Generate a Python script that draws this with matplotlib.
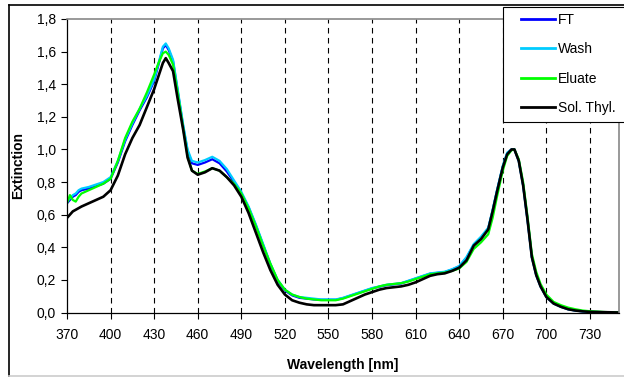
import numpy as np
import matplotlib
matplotlib.use('Agg')
import matplotlib.pyplot as plt
from matplotlib.patches import Rectangle
from matplotlib.lines import Line2D

plt.rcParams['font.family'] = ['Liberation Sans', 'DejaVu Sans']

# wavelength [nm]
wl = [370, 372, 374, 376, 378, 380, 385, 390, 395, 400, 405, 410, 415, 420, 425, 430, 433, 436, 438, 440,
      443, 446, 450, 453, 456, 460, 465, 470, 475, 480, 485, 490, 495, 500, 505, 510, 515, 520, 525, 530,
      535, 540, 545, 550, 555, 560, 565, 570, 575, 580, 585, 590, 595, 600, 605, 610, 615, 620, 625, 630,
      635, 640, 645, 650, 655, 660, 663, 666, 670, 673, 676, 678, 681, 684, 687, 690, 693, 696, 700, 705,
      710, 715, 720, 725, 730, 740, 750]

wash = [0.68, 0.70, 0.72, 0.73, 0.75, 0.76, 0.77, 0.785, 0.80, 0.83, 0.93, 1.06, 1.16, 1.25, 1.33, 1.43, 1.53, 1.63, 1.65, 1.62,
        1.55, 1.38, 1.15, 1.00, 0.93, 0.92, 0.935, 0.955, 0.93, 0.88, 0.81, 0.74, 0.65, 0.54, 0.42, 0.30, 0.20, 0.14, 0.11, 0.095,
        0.09, 0.085, 0.08, 0.08, 0.08, 0.09, 0.105, 0.12, 0.135, 0.15, 0.16, 0.17, 0.175, 0.18, 0.195, 0.21, 0.225, 0.24, 0.245, 0.25,
        0.265, 0.285, 0.34, 0.42, 0.465, 0.52, 0.63, 0.75, 0.90, 0.98, 1.00, 1.00, 0.93, 0.78, 0.57, 0.34, 0.23, 0.16, 0.095, 0.055,
        0.035, 0.02, 0.012, 0.007, 0.004, 0.002, 0.0]

ft = [0.67, 0.69, 0.71, 0.72, 0.74, 0.75, 0.76, 0.775, 0.79, 0.82, 0.92, 1.05, 1.15, 1.24, 1.32, 1.42, 1.52, 1.62, 1.64, 1.61,
      1.54, 1.37, 1.14, 0.99, 0.915, 0.905, 0.92, 0.94, 0.915, 0.865, 0.80, 0.73, 0.645, 0.535, 0.415, 0.295, 0.195, 0.135, 0.105, 0.09,
      0.085, 0.08, 0.078, 0.078, 0.078, 0.088, 0.103, 0.118, 0.133, 0.148, 0.158, 0.168, 0.173, 0.178, 0.193, 0.208, 0.223, 0.238, 0.243, 0.248,
      0.263, 0.283, 0.335, 0.415, 0.46, 0.515, 0.625, 0.745, 0.895, 0.975, 1.00, 1.00, 0.93, 0.78, 0.57, 0.34, 0.23, 0.16, 0.095, 0.055,
      0.035, 0.02, 0.012, 0.007, 0.004, 0.002, 0.0]

eluate = [0.67, 0.72, 0.69, 0.68, 0.71, 0.73, 0.75, 0.77, 0.79, 0.82, 0.93, 1.07, 1.17, 1.25, 1.35, 1.46, 1.53, 1.59, 1.60, 1.58,
          1.52, 1.36, 1.13, 0.96, 0.87, 0.85, 0.865, 0.885, 0.87, 0.83, 0.79, 0.73, 0.64, 0.53, 0.41, 0.30, 0.20, 0.14, 0.11, 0.095,
          0.085, 0.08, 0.075, 0.075, 0.075, 0.085, 0.10, 0.115, 0.13, 0.145, 0.16, 0.17, 0.175, 0.18, 0.19, 0.205, 0.22, 0.235, 0.24, 0.245,
          0.255, 0.27, 0.31, 0.39, 0.43, 0.48, 0.58, 0.71, 0.87, 0.96, 0.995, 1.00, 0.94, 0.80, 0.59, 0.36, 0.25, 0.175, 0.11, 0.065,
          0.045, 0.03, 0.02, 0.012, 0.008, 0.003, 0.0]

sol_thyl = [0.58, 0.60, 0.62, 0.63, 0.64, 0.65, 0.67, 0.69, 0.71, 0.75, 0.84, 0.97, 1.07, 1.15, 1.26, 1.37, 1.45, 1.53, 1.56, 1.53,
            1.48, 1.32, 1.12, 0.95, 0.87, 0.845, 0.86, 0.885, 0.87, 0.83, 0.78, 0.71, 0.61, 0.49, 0.37, 0.26, 0.17, 0.11, 0.075, 0.06,
            0.05, 0.045, 0.045, 0.045, 0.045, 0.05, 0.07, 0.09, 0.11, 0.125, 0.14, 0.15, 0.155, 0.16, 0.17, 0.185, 0.205, 0.225, 0.235, 0.24,
            0.255, 0.275, 0.32, 0.41, 0.45, 0.51, 0.62, 0.74, 0.89, 0.97, 1.00, 1.00, 0.93, 0.78, 0.57, 0.34, 0.23, 0.16, 0.095, 0.055,
            0.035, 0.02, 0.012, 0.007, 0.004, 0.002, 0.0]

names = ['FT', 'Wash', 'Eluate', 'Sol. Thyl.']
colors = ['#0000ff', '#00ccff', '#00ff00', '#000000']
series = [ft, wash, eluate, sol_thyl]

W, H = 624, 378
fig = plt.figure(figsize=(W / 100, H / 100), dpi=100)
ax = fig.add_axes([67 / W, 1 - 312.5 / H, (619 - 67) / W, (312.5 - 19) / H])

for s, c, n in zip(series, colors, names):
    ax.plot(wl, s, color=c, lw=1.6 if c != '#000000' else 1.9, label=n, solid_joinstyle='round')

ax.set_xlim(370, 750)
ax.set_ylim(0, 1.8)
ax.set_xticks(np.arange(370, 731, 30))
yt = np.arange(0, 1.81, 0.2)
ax.set_yticks(yt)
ax.set_yticklabels([('%.1f' % v).replace('.', ',') for v in yt])
for x in range(400, 731, 30):
    ax.axvline(x, color='black', lw=0.8, ls=(0, (5, 4)), zorder=0)

ax.tick_params(labelsize=10, length=4, width=0.8, direction='out')
ax.tick_params(axis='x', pad=7)
ax.tick_params(axis='y', pad=4)
ax.spines['left'].set_linewidth(0.9)
ax.spines['bottom'].set_linewidth(0.9)
ax.spines['top'].set_color('#888888')
ax.spines['right'].set_color('#888888')
ax.spines['top'].set_linewidth(1.2)
ax.spines['right'].set_linewidth(1.2)
ax.set_xlabel('Wavelength [nm]', fontsize=10, fontweight='bold', labelpad=12)
ax.set_ylabel('Extinction', fontsize=10, fontweight='bold', labelpad=8)

# chart frame
fig.add_artist(Line2D([9 / W, 1], [1 - 5 / H, 1 - 5 / H], color='black', lw=1.2))
fig.add_artist(Line2D([9 / W, 9 / W], [1 - 5 / H, 1 - 376 / H], color='black', lw=1.2))
fig.add_artist(Line2D([9 / W, 1], [1 - 376 / H, 1 - 376 / H], color='#cccccc', lw=1.2))

# legend box
fig.add_artist(Rectangle((503 / W, 1 - 122 / H), 130 / W, 115 / H, facecolor='white',
                         edgecolor='black', lw=0.8, zorder=5))
leg = fig.legend(loc='upper left', bbox_to_anchor=(521 / W, 1 - 13 / H), frameon=False,
                 borderpad=0, borderaxespad=0, handlelength=2.45, handletextpad=0.2,
                 labelspacing=1.1, fontsize=10)
leg.set_zorder(6)
for l in leg.get_lines():
    l.set_linewidth(2)

fig.savefig('out.png', dpi=100)
